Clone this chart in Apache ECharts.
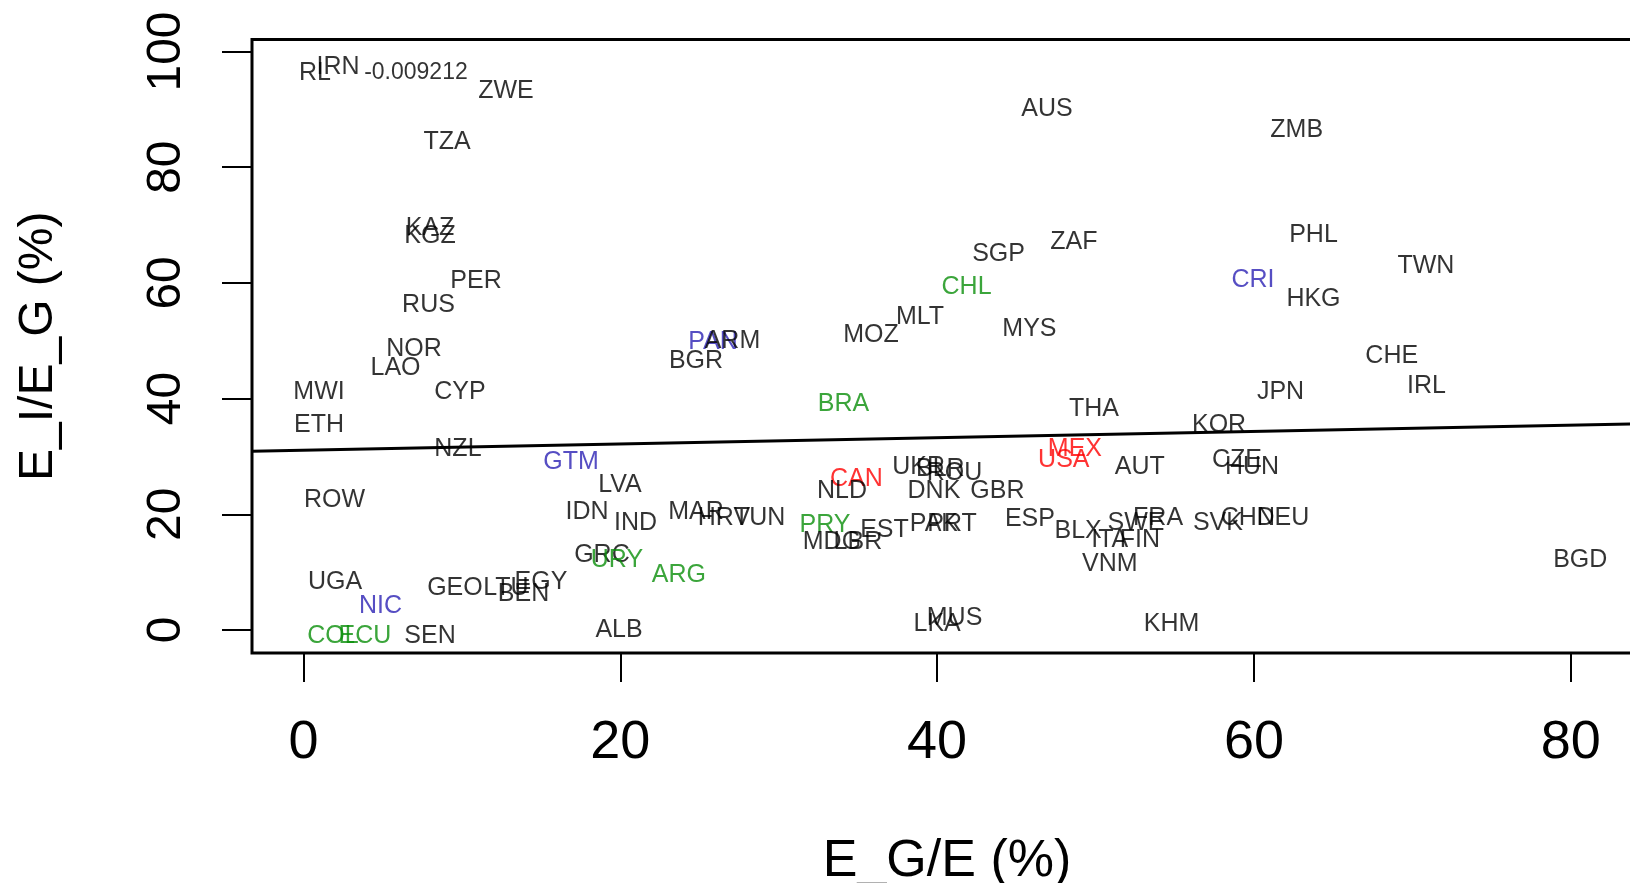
<!DOCTYPE html>
<html>
<head>
<meta charset="utf-8">
<script src="https://cdn.jsdelivr.net/npm/echarts@6/dist/echarts.min.js"></script>
<style>
html, body { margin: 0; padding: 0; background: #fff; }
#chart { width: 1630px; height: 883px; }
</style>
</head>
<body>
<div id="chart"></div>
<script>
// country labels, x = E_G/E (%), y = E_I/E_G (%)
var countries = ['RL', 'IRN', 'ZWE', 'TZA', 'KAZ', 'KGZ', 'PER', 'RUS', 'NOR', 'LAO',
    'MWI', 'CYP', 'ETH', 'NZL', 'GTM', 'LVA', 'ROW', 'IDN', 'IND', 'GRC',
    'URY', 'UGA', 'GEO', 'LTU', 'EGY', 'BEN', 'NIC', 'COL', 'ECU', 'SEN',
    'ALB', 'AUS', 'ZAF', 'SGP', 'CHL', 'MLT', 'MOZ', 'MYS', 'PAN', 'ARM',
    'BGR', 'BRA', 'THA', 'MEX', 'USA', 'AUT', 'CAN', 'NLD', 'UKR', 'BLR',
    'ROU', 'DNK', 'GBR', 'MAR', 'HRV', 'TUN', 'PRY', 'EST', 'MDG', 'LBR',
    'PAK', 'PRT', 'ESP', 'BLX', 'LKA', 'MUS', 'ARG', 'CHE', 'JPN', 'IRL',
    'KOR', 'CZE', 'HUN', 'FRA', 'SWE', 'ITA', 'FIN', 'VNM', 'SVK', 'CHN',
    'DEU', 'BGD', 'KHM', 'ZMB', 'PHL', 'TWN', 'CRI', 'HKG'];
var egShare = [0.73, 2.18, 12.78, 9.06, 7.99, 7.99, 10.89, 7.89, 6.98, 5.81,
    0.98, 9.88, 0.98, 9.75, 16.89, 19.98, 1.96, 17.9, 20.96, 18.84,
    19.79, 1.99, 9.56, 12.78, 14.99, 13.89, 4.86, 1.86, 3.88, 7.99,
    19.92, 46.94, 48.64, 43.88, 41.86, 38.92, 35.83, 45.83, 25.85, 27.08,
    24.78, 34.09, 49.9, 48.7, 48.0, 52.8, 34.9, 34.0, 38.83, 40.2,
    41.1, 39.8, 43.81, 24.78, 26.54, 28.8, 32.92, 36.68, 33.36, 35.0,
    39.8, 40.94, 45.86, 48.9, 40.0, 41.1, 23.7, 68.7, 61.68, 70.9,
    57.8, 58.93, 59.88, 53.95, 52.56, 50.9, 52.8, 50.9, 57.73, 59.62,
    61.83, 80.6, 54.8, 62.7, 63.76, 70.86, 59.94, 63.76];
var eiShare = [96.3, 97.3, 93.2, 84.4, 69.5, 68.1, 60.3, 56.15, 48.5, 45.3,
    41.2, 41.2, 35.4, 31.3, 29.1, 25.0, 22.5, 20.3, 18.4, 13.0,
    12.1, 8.36, 7.23, 7.23, 8.27, 6.28, 4.21, -0.98, -0.98, -0.98,
    0.06, 90.0, 67.1, 65.0, 59.3, 54.1, 51.0, 52.0, 49.7, 49.9,
    46.4, 39.0, 38.1, 31.3, 29.4, 28.15, 26.1, 24.0, 28.15, 27.8,
    27.1, 24.0, 24.0, 20.4, 19.3, 19.3, 18.2, 17.26, 15.2, 15.2,
    18.3, 18.3, 19.25, 17.1, 1.1, 2.05, 9.4, 47.3, 41.1, 42.15,
    35.4, 29.3, 28.15, 19.3, 18.5, 15.5, 15.5, 11.4, 18.5, 19.3,
    19.3, 12.0, 1.0, 86.4, 68.25, 62.9, 60.4, 57.2];
// 0 other, 1 south america, 2 central america, 3 north america
var regionGroup = [0, 0, 0, 0, 0, 0, 0, 0, 0, 0,
    0, 0, 0, 0, 2, 0, 0, 0, 0, 0,
    1, 0, 0, 0, 0, 0, 2, 1, 1, 0,
    0, 0, 0, 0, 1, 0, 0, 0, 2, 0,
    0, 1, 0, 3, 3, 0, 3, 0, 0, 0,
    0, 0, 0, 0, 0, 0, 1, 0, 0, 0,
    0, 0, 0, 0, 0, 0, 1, 0, 0, 0,
    0, 0, 0, 0, 0, 0, 0, 0, 0, 0,
    0, 0, 0, 0, 0, 0, 2, 0];
var groupColors = ['#000000', '#0a8f0a', '#2c22b4', '#ff0000'];

// fitted line
var fitX = [-3.25, 84.5];
var fitY = [30.9, 35.65];

// stray note text
var noteText = ['-0.009212'];
var noteX = [7.1];
var noteY = [96.3];

var xTicks = [0, 20, 40, 60, 80];
var yTicks = [0, 20, 40, 60, 80, 100];

var fontName = '"Liberation Sans", Arial, sans-serif';

var myChart = echarts.init(document.getElementById('chart'));

var pts = [];
for (var i = 0; i < countries.length; i++) {
    pts.push({
        name: countries[i],
        value: [egShare[i], eiShare[i]],
        label: { color: groupColors[regionGroup[i]] }
    });
}
var notes = [];
for (var j = 0; j < noteText.length; j++) {
    notes.push({ name: noteText[j], value: [noteX[j], noteY[j]] });
}
var fitLine = [];
for (var k = 0; k < fitX.length; k++) {
    fitLine.push([fitX[k], fitY[k]]);
}

var option = {
    animation: false,
    backgroundColor: '#fff',
    grid: {
        left: 252, right: -12, top: 39.5, bottom: 230,
        outerBoundsMode: 'none', containLabel: false,
        show: true, borderColor: '#000', borderWidth: 3, backgroundColor: 'transparent'
    },
    xAxis: {
        type: 'value', min: -3.25, max: 84.5,
        name: 'E_G/E (%)', nameLocation: 'middle', nameGap: 183,
        nameTextStyle: { fontSize: 52, color: '#000', fontFamily: fontName },
        splitLine: { show: false },
        axisLine: { show: false, onZero: false },
        axisTick: { show: true, length: 29, customValues: xTicks, lineStyle: { color: '#000', width: 2 } },
        axisLabel: { customValues: xTicks, margin: 63, fontSize: 54, color: '#000', fontFamily: fontName }
    },
    yAxis: {
        type: 'value', min: -3.98, max: 102.07,
        name: 'E_I/E_G (%)', nameLocation: 'middle', nameGap: 189,
        nameTextStyle: { fontSize: 48, color: '#000', fontFamily: fontName },
        splitLine: { show: false },
        axisLine: { show: false, onZero: false },
        axisTick: { show: true, length: 30, customValues: yTicks, lineStyle: { color: '#000', width: 2 } },
        axisLabel: { customValues: yTicks, rotate: 90, margin: 61, fontSize: 48, color: '#000', fontFamily: fontName }
    },
    series: [{
        type: 'line',
        data: fitLine,
        showSymbol: false,
        silent: true,
        lineStyle: { color: '#000', width: 3 },
        z: 2
    }, {
        type: 'scatter',
        data: pts,
        symbolSize: 1,
        itemStyle: { color: 'rgba(0,0,0,0)' },
        label: {
            show: true, position: 'inside', formatter: '{b}',
            fontSize: 25, fontFamily: fontName
        },
        z: 3
    }, {
        type: 'scatter',
        data: notes,
        symbolSize: 1,
        itemStyle: { color: 'rgba(0,0,0,0)' },
        label: {
            show: true, position: 'inside', formatter: '{b}',
            fontSize: 23, color: '#000', fontFamily: fontName
        },
        z: 3
    }]
};

myChart.setOption(option);
</script>
</body>
</html>
